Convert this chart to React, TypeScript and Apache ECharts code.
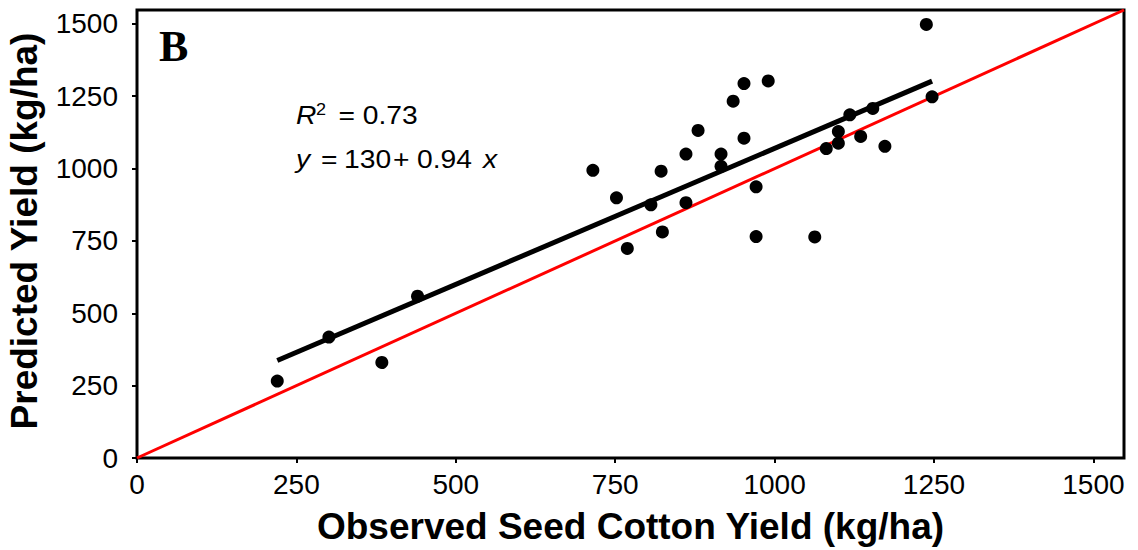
import React, { useEffect, useRef } from "react";
import * as echarts from "echarts";

// Observed vs predicted seed cotton yield (kg/ha)
const observed = [
  220, 301, 384, 440, 715, 752, 769, 806, 822, 824, 861, 861, 880, 916, 916,
  935, 952, 952, 971, 971, 990, 1063, 1081, 1100, 1100, 1118, 1135, 1154,
  1173, 1238, 1247,
];
const predicted = [
  266, 418, 330, 559, 994, 899, 724, 875, 991, 781, 1050, 882, 1132, 1050,
  1008, 1233, 1294, 1105, 937, 765, 1303, 764, 1069, 1128, 1088, 1186, 1111,
  1208, 1077, 1498, 1248,
];

// Fitted regression: y = 130 + 0.94 x, R² = 0.73
const fitIntercept = 130;
const fitSlope = 0.94;
const rSquared = "0.73";

const axisTicks = [0, 250, 500, 750, 1000, 1250, 1500];
const axisMax = 1548;

const FONT = "'Liberation Sans', Arial, Helvetica, sans-serif";
const NOTE_SIZE = 25;
const NOTE_STRETCH = 1.13;

function note(
  text: string,
  x: number,
  y: number,
  opts: { italic?: boolean; size?: number } = {}
) {
  return {
    type: "text",
    x,
    y,
    scaleX: NOTE_STRETCH,
    style: {
      text,
      fontFamily: FONT,
      fontStyle: opts.italic ? "italic" : "normal",
      fontSize: opts.size ?? NOTE_SIZE,
      fill: "#000",
      verticalAlign: "middle",
    },
  };
}

export default function App() {
  const ref = useRef<HTMLDivElement>(null);

  useEffect(() => {
    if (!ref.current) return;
    const chart = echarts.init(ref.current, null, { renderer: "svg" });

    const points = observed.map((x, i) => [x, predicted[i]]);
    const xMin = Math.min(...observed);
    const xMax = Math.max(...observed);
    const fitLine = [
      [xMin, fitIntercept + fitSlope * xMin],
      [xMax, fitIntercept + fitSlope * xMax],
    ];
    const identityLine = [
      [0, 0],
      [axisMax, axisMax],
    ];

    const labelFmt = (v: number) => (axisTicks.includes(v) ? String(v) : "");

    const axisCommon = {
      type: "value" as const,
      min: 0,
      max: axisMax,
      interval: 250,
      splitLine: { show: false },
      axisLine: { show: false },
      axisTick: {
        show: true,
        inside: false,
        length: 5,
        lineStyle: { color: "#000", width: 2 },
      },
    };

    const labelStyle = {
      fontFamily: FONT,
      fontSize: 28,
      color: "#000",
      formatter: labelFmt,
      showMaxLabel: false,
    };

    chart.setOption({
      animation: false,
      backgroundColor: "#fff",
      grid: {
        left: 137,
        right: 14,
        top: 10,
        bottom: 90,
        show: true,
        borderColor: "#000",
        borderWidth: 3,
        backgroundColor: "transparent",
      },
      xAxis: {
        ...axisCommon,
        name: "Observed Seed Cotton Yield (kg/ha)",
        nameLocation: "middle",
        nameGap: 50,
        nameTextStyle: {
          fontFamily: FONT,
          fontWeight: "bold",
          fontSize: 37,
          color: "#000",
        },
        axisLabel: { ...labelStyle, margin: 12 },
      },
      yAxis: {
        ...axisCommon,
        axisLabel: { ...labelStyle, margin: 19 },
      },
      series: [
        {
          type: "line",
          data: identityLine,
          showSymbol: false,
          lineStyle: { color: "#ff0000", width: 3 },
          z: 2,
        },
        {
          type: "line",
          data: fitLine,
          showSymbol: false,
          lineStyle: { color: "#000", width: 5 },
          z: 3,
        },
        {
          type: "scatter",
          data: points,
          symbol: "circle",
          symbolSize: 13,
          itemStyle: { color: "#000", opacity: 1 },
          z: 4,
        },
      ],
      graphic: [
        {
          type: "text",
          x: 24,
          y: 231,
          rotation: Math.PI / 2,
          style: {
            text: "Predicted Yield (kg/ha)",
            fontFamily: FONT,
            fontWeight: "bold",
            fontSize: 37,
            fill: "#000",
            align: "center",
            verticalAlign: "middle",
          },
        },
        {
          type: "text",
          x: 159,
          y: 24,
          style: {
            text: "B",
            fontFamily: "'Liberation Serif', 'Times New Roman', serif",
            fontWeight: "bold",
            fontSize: 44,
            fill: "#000",
          },
        },
        note("R", 296, 116, { italic: true }),
        note("2", 316, 110, { size: 16 }),
        note("= " + rSquared, 338.5, 116),
        note("y", 296, 160, { italic: true }),
        note("=", 321, 160),
        note(String(fitIntercept), 344, 160),
        note("+", 393, 160),
        note(String(fitSlope), 417, 160),
        note("x", 483, 160, { italic: true }),
      ],
    });

    return () => chart.dispose();
  }, []);

  return (
    <div
      ref={ref}
      style={{ width: 1138, height: 550, position: "absolute", left: 0, top: 0 }}
    />
  );
}
